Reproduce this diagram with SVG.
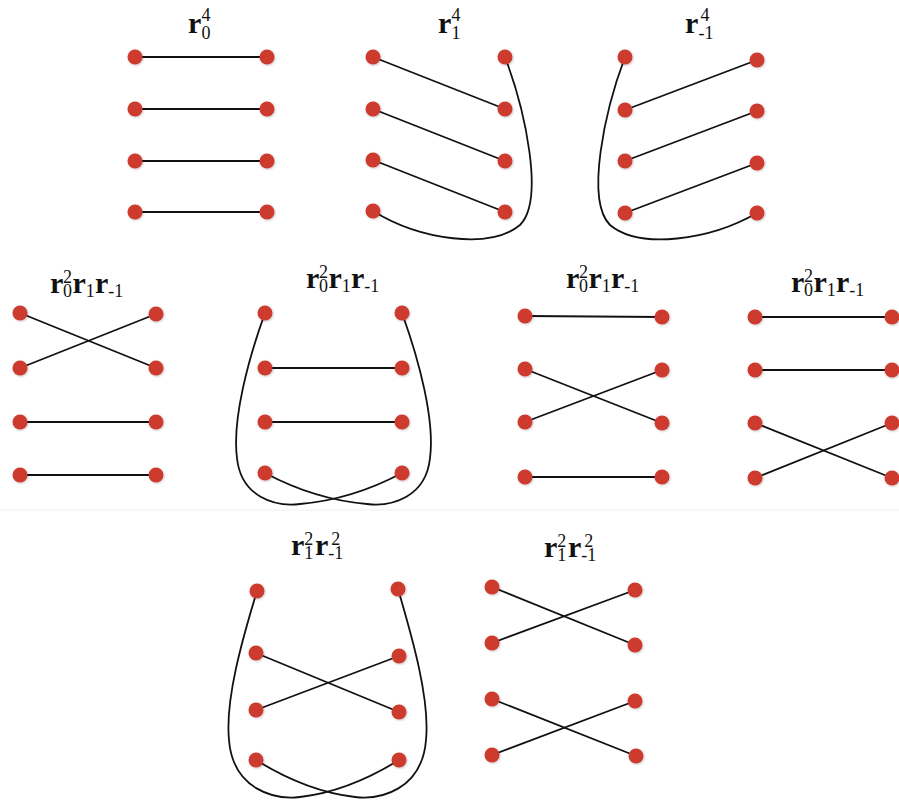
<svg xmlns="http://www.w3.org/2000/svg" width="899" height="800" viewBox="0 0 899 800">
<style>
.dot{fill:#cc3a2f;filter:url(#sh)}
.ln{stroke:#111;stroke-width:1.8;fill:none}
.t{font-family:"Liberation Serif","Times New Roman",serif;fill:#111}
.b{font-size:30px;font-weight:bold}
.s{font-size:18px;font-weight:normal}
</style>
<defs>
<filter id="sh" x="-50%" y="-50%" width="200%" height="200%">
<feDropShadow dx="0.8" dy="0.8" stdDeviation="0.8" flood-color="#000" flood-opacity="0.25"/>
</filter>
</defs>
<rect width="899" height="800" fill="#fff"/>
<line x1="0" y1="510" x2="899" y2="510" stroke="#efefef" stroke-width="1"/>

<g id="connectors">
<line class="ln" x1="135" y1="57" x2="267" y2="57"/>
<line class="ln" x1="135" y1="109" x2="267" y2="109"/>
<line class="ln" x1="135" y1="161" x2="267" y2="161"/>
<line class="ln" x1="135" y1="212" x2="267" y2="212"/>
<line class="ln" x1="373" y1="57" x2="505" y2="109"/>
<line class="ln" x1="373" y1="109" x2="505" y2="161"/>
<line class="ln" x1="373" y1="160" x2="505" y2="212"/>
<path class="ln" d="M373,211 C420,240 490,250 520,225 C545,200 525,110 505,57"/>
<line class="ln" x1="625" y1="110" x2="757" y2="60"/>
<line class="ln" x1="625" y1="161" x2="757" y2="111"/>
<line class="ln" x1="625" y1="213" x2="757" y2="163"/>
<path class="ln" d="M757,213 C710,240 640,250 610,225 C585,200 605,110 625,57"/>
<line class="ln" x1="20" y1="313" x2="156" y2="368"/>
<line class="ln" x1="20" y1="368" x2="156" y2="314"/>
<line class="ln" x1="20" y1="422" x2="156" y2="422"/>
<line class="ln" x1="20" y1="475" x2="156" y2="475"/>
<line class="ln" x1="265" y1="368" x2="402" y2="368"/>
<line class="ln" x1="265" y1="422" x2="402" y2="422"/>
<path class="ln" d="M265,313 C248,360 232,420 237,458 C241,497 275,507 300,504 C335,501 370,490 402,473"/>
<path class="ln" d="M402,313 C419,360 435,420 430,458 C426,497 392,507 367,504 C332,501 297,490 265,473"/>
<line class="ln" x1="525" y1="316" x2="662" y2="317"/>
<line class="ln" x1="525" y1="369" x2="662" y2="423"/>
<line class="ln" x1="525" y1="422" x2="662" y2="370"/>
<line class="ln" x1="525" y1="477" x2="662" y2="477"/>
<line class="ln" x1="755" y1="317" x2="892" y2="317"/>
<line class="ln" x1="755" y1="370" x2="892" y2="370"/>
<line class="ln" x1="755" y1="423" x2="892" y2="478"/>
<line class="ln" x1="755" y1="478" x2="892" y2="423"/>
<line class="ln" x1="256" y1="653" x2="399" y2="712"/>
<line class="ln" x1="256" y1="710" x2="399" y2="656"/>
<path class="ln" d="M257,591 C242,640 225,700 229,740 C233,790 275,800 300,797 C335,793 370,778 399,760"/>
<path class="ln" d="M398,589 C413,640 430,700 426,740 C422,790 380,800 355,797 C320,793 285,778 256,760"/>
<line class="ln" x1="492" y1="587" x2="635" y2="645"/>
<line class="ln" x1="492" y1="643" x2="635" y2="590"/>
<line class="ln" x1="492" y1="699" x2="636" y2="756"/>
<line class="ln" x1="492" y1="755" x2="635" y2="701"/>
</g>

<g id="panel-r0-4">
<text class="t" x="188" y="33"><tspan class="b">r</tspan><tspan class="s" x="201.5" dy="6">0</tspan><tspan class="s" x="201.5" dy="-18">4</tspan></text>
<circle class="dot" cx="135" cy="57" r="7.5"/><circle class="dot" cx="267" cy="57" r="7.5"/>
<circle class="dot" cx="135" cy="109" r="7.5"/><circle class="dot" cx="267" cy="109" r="7.5"/>
<circle class="dot" cx="135" cy="161" r="7.5"/><circle class="dot" cx="267" cy="161" r="7.5"/>
<circle class="dot" cx="135" cy="212" r="7.5"/><circle class="dot" cx="267" cy="212" r="7.5"/>
</g>

<g id="panel-r1-4">
<text class="t" x="438" y="33"><tspan class="b">r</tspan><tspan class="s" x="451.5" dy="6">1</tspan><tspan class="s" x="451.5" dy="-18">4</tspan></text>
<circle class="dot" cx="373" cy="57" r="7.5"/><circle class="dot" cx="505" cy="57" r="7.5"/>
<circle class="dot" cx="373" cy="109" r="7.5"/><circle class="dot" cx="505" cy="109" r="7.5"/>
<circle class="dot" cx="373" cy="160" r="7.5"/><circle class="dot" cx="505" cy="161" r="7.5"/>
<circle class="dot" cx="373" cy="211" r="7.5"/><circle class="dot" cx="505" cy="212" r="7.5"/>
</g>

<g id="panel-rm1-4">
<text class="t" x="685" y="33"><tspan class="b">r</tspan><tspan class="s" x="698.5" dy="6">-1</tspan><tspan class="s" x="700.5" dy="-18">4</tspan></text>
<circle class="dot" cx="625" cy="57" r="7.5"/><circle class="dot" cx="757" cy="60" r="7.5"/>
<circle class="dot" cx="625" cy="110" r="7.5"/><circle class="dot" cx="757" cy="111" r="7.5"/>
<circle class="dot" cx="625" cy="161" r="7.5"/><circle class="dot" cx="757" cy="163" r="7.5"/>
<circle class="dot" cx="625" cy="213" r="7.5"/><circle class="dot" cx="757" cy="213" r="7.5"/>
</g>

<g id="panel-mid1">
<text class="t" x="50" y="293"><tspan class="b">r</tspan><tspan class="s" x="63" dy="4">0</tspan><tspan class="s" x="63" dy="-14">2</tspan><tspan class="b" x="72.5" dy="10">r</tspan><tspan class="s" x="85.8" dy="4">1</tspan><tspan class="b" x="95" dy="-4">r</tspan><tspan class="s" x="108.3" dy="4">-1</tspan></text>
<circle class="dot" cx="20" cy="313" r="7.5"/><circle class="dot" cx="156" cy="314" r="7.5"/>
<circle class="dot" cx="20" cy="368" r="7.5"/><circle class="dot" cx="156" cy="368" r="7.5"/>
<circle class="dot" cx="20" cy="422" r="7.5"/><circle class="dot" cx="156" cy="422" r="7.5"/>
<circle class="dot" cx="20" cy="475" r="7.5"/><circle class="dot" cx="156" cy="475" r="7.5"/>
</g>

<g id="panel-mid2">
<text class="t" x="306" y="288"><tspan class="b">r</tspan><tspan class="s" x="319" dy="4">0</tspan><tspan class="s" x="319" dy="-14">2</tspan><tspan class="b" x="328.5" dy="10">r</tspan><tspan class="s" x="341.8" dy="4">1</tspan><tspan class="b" x="351" dy="-4">r</tspan><tspan class="s" x="364.3" dy="4">-1</tspan></text>
<circle class="dot" cx="265" cy="313" r="7.5"/><circle class="dot" cx="402" cy="313" r="7.5"/>
<circle class="dot" cx="265" cy="368" r="7.5"/><circle class="dot" cx="402" cy="368" r="7.5"/>
<circle class="dot" cx="265" cy="422" r="7.5"/><circle class="dot" cx="402" cy="422" r="7.5"/>
<circle class="dot" cx="265" cy="473" r="7.5"/><circle class="dot" cx="402" cy="473" r="7.5"/>
</g>

<g id="panel-mid3">
<text class="t" x="566" y="288"><tspan class="b">r</tspan><tspan class="s" x="579" dy="4">0</tspan><tspan class="s" x="579" dy="-14">2</tspan><tspan class="b" x="588.5" dy="10">r</tspan><tspan class="s" x="601.8" dy="4">1</tspan><tspan class="b" x="611" dy="-4">r</tspan><tspan class="s" x="624.3" dy="4">-1</tspan></text>
<circle class="dot" cx="525" cy="316" r="7.5"/><circle class="dot" cx="662" cy="317" r="7.5"/>
<circle class="dot" cx="525" cy="369" r="7.5"/><circle class="dot" cx="662" cy="370" r="7.5"/>
<circle class="dot" cx="525" cy="422" r="7.5"/><circle class="dot" cx="662" cy="423" r="7.5"/>
<circle class="dot" cx="525" cy="477" r="7.5"/><circle class="dot" cx="662" cy="477" r="7.5"/>
</g>

<g id="panel-mid4">
<text class="t" x="791" y="292"><tspan class="b">r</tspan><tspan class="s" x="804" dy="4">0</tspan><tspan class="s" x="804" dy="-14">2</tspan><tspan class="b" x="813.5" dy="10">r</tspan><tspan class="s" x="826.8" dy="4">1</tspan><tspan class="b" x="836" dy="-4">r</tspan><tspan class="s" x="849.3" dy="4">-1</tspan></text>
<circle class="dot" cx="755" cy="317" r="7.5"/><circle class="dot" cx="892" cy="317" r="7.5"/>
<circle class="dot" cx="755" cy="370" r="7.5"/><circle class="dot" cx="892" cy="370" r="7.5"/>
<circle class="dot" cx="755" cy="423" r="7.5"/><circle class="dot" cx="892" cy="423" r="7.5"/>
<circle class="dot" cx="755" cy="478" r="7.5"/><circle class="dot" cx="892" cy="478" r="7.5"/>
</g>

<g id="panel-bot1">
<text class="t" x="291" y="555"><tspan class="b">r</tspan><tspan class="s" x="304.3" dy="4">1</tspan><tspan class="s" x="304.3" dy="-14">2</tspan><tspan class="b" x="315" dy="10">r</tspan><tspan class="s" x="328.3" dy="4">-1</tspan><tspan class="s" x="331.3" dy="-14">2</tspan></text>
<circle class="dot" cx="257" cy="591" r="7.5"/><circle class="dot" cx="398" cy="589" r="7.5"/>
<circle class="dot" cx="256" cy="653" r="7.5"/><circle class="dot" cx="399" cy="656" r="7.5"/>
<circle class="dot" cx="256" cy="710" r="7.5"/><circle class="dot" cx="399" cy="712" r="7.5"/>
<circle class="dot" cx="256" cy="760" r="7.5"/><circle class="dot" cx="399" cy="760" r="7.5"/>
</g>

<g id="panel-bot2">
<text class="t" x="544" y="557"><tspan class="b">r</tspan><tspan class="s" x="557.3" dy="4">1</tspan><tspan class="s" x="557.3" dy="-14">2</tspan><tspan class="b" x="568" dy="10">r</tspan><tspan class="s" x="581.3" dy="4">-1</tspan><tspan class="s" x="584.3" dy="-14">2</tspan></text>
<circle class="dot" cx="492" cy="587" r="7.5"/><circle class="dot" cx="635" cy="590" r="7.5"/>
<circle class="dot" cx="492" cy="643" r="7.5"/><circle class="dot" cx="635" cy="645" r="7.5"/>
<circle class="dot" cx="492" cy="699" r="7.5"/><circle class="dot" cx="635" cy="701" r="7.5"/>
<circle class="dot" cx="492" cy="755" r="7.5"/><circle class="dot" cx="636" cy="756" r="7.5"/>
</g>
</svg>
